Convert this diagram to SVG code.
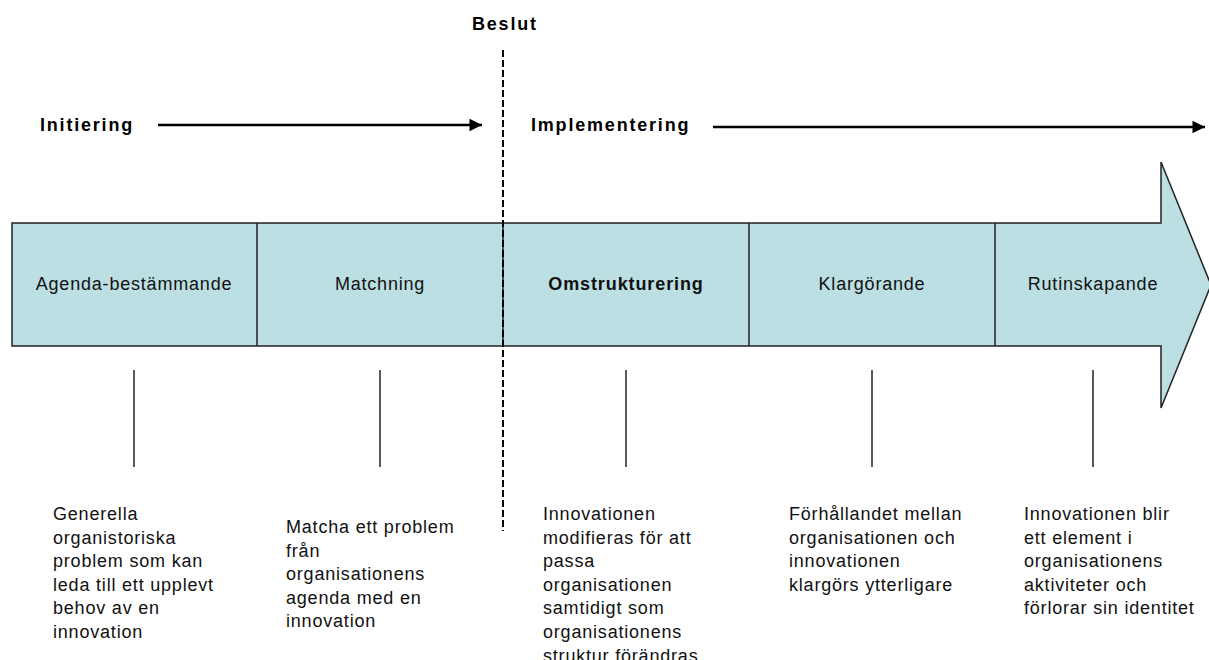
<svg xmlns="http://www.w3.org/2000/svg" width="1209" height="660" viewBox="0 0 1209 660">
  <defs>
    <marker id="head" viewBox="0 0 10 10" refX="10" refY="5" markerWidth="6" markerHeight="5" markerUnits="strokeWidth" orient="auto">
      <path d="M0,0 L10,5 L0,10 Z" fill="#000"/>
    </marker>
    <style>
      .hdr { font-family: "Liberation Sans", Arial, sans-serif; font-weight: bold; font-size: 18px; letter-spacing: 1.8px; fill: #000; }
      .stage { font-family: "Liberation Sans", Arial, sans-serif; font-size: 18px; letter-spacing: 0.8px; fill: #111; text-anchor: middle; }
      .stage.bold { font-weight: bold; letter-spacing: 0.9px; }
      .desc { font-family: "Liberation Sans", Arial, sans-serif; font-size: 18px; letter-spacing: 0.8px; fill: #111; }
      .band { fill: #BBDFE2; stroke: #222; stroke-width: 1.5; }
      .div { stroke: #222; stroke-width: 1.5; }
      .tick { stroke: #000; stroke-width: 1.3; }
      .flow { stroke: #000; stroke-width: 2.5; fill: none; marker-end: url(#head); }
      .decision { stroke: #000; stroke-width: 2; stroke-dasharray: 7 3; }
    </style>
  </defs>
  <rect width="1209" height="660" fill="#fff"/>

  <!-- phase headings -->
  <g id="phase-initiering">
    <text class="hdr" x="40" y="131">Initiering</text>
  </g>
  <g id="phase-implementering">
    <text class="hdr" x="531" y="131">Implementering</text>
  </g>
  <g id="decision-label">
    <text class="hdr" x="472" y="30">Beslut</text>
  </g>

  <!-- process band: one big arrow split into stages -->
  <g id="band">
    <path class="band" d="M12,223 H1161 V162 L1211,285 L1161,408 V346 H12 Z"/>
    <line class="div" x1="257" y1="223" x2="257" y2="346"/>
    <line class="div" x1="503" y1="223" x2="503" y2="346"/>
    <line class="div" x1="749" y1="223" x2="749" y2="346"/>
    <line class="div" x1="995" y1="223" x2="995" y2="346"/>
  </g>

  <g id="stage-agenda">
    <text class="stage" x="134" y="290">Agenda-bestämmande</text>
  </g>
  <g id="stage-matchning">
    <text class="stage" x="380" y="290">Matchning</text>
  </g>
  <g id="stage-omstrukturering">
    <text class="stage bold" x="626" y="290">Omstrukturering</text>
  </g>
  <g id="stage-klargorande">
    <text class="stage" x="872" y="290">Klargörande</text>
  </g>
  <g id="stage-rutinskapande">
    <text class="stage" x="1093" y="290">Rutinskapande</text>
  </g>

  <!-- connectors -->
  <g id="connectors">
    <line class="flow" x1="158" y1="125" x2="482" y2="125"/>
    <line class="flow" x1="713" y1="127" x2="1205" y2="127"/>
    <line class="decision" x1="503" y1="50" x2="503" y2="531"/>
    <line class="tick" x1="134" y1="370" x2="134" y2="467"/>
    <line class="tick" x1="380" y1="370" x2="380" y2="467"/>
    <line class="tick" x1="626" y1="370" x2="626" y2="467"/>
    <line class="tick" x1="872" y1="370" x2="872" y2="467"/>
    <line class="tick" x1="1093" y1="370" x2="1093" y2="467"/>
  </g>

  <!-- stage descriptions -->
  <g id="desc-agenda">
    <text class="desc" x="53" y="520">
      <tspan x="53" dy="0">Generella</tspan>
      <tspan x="53" dy="23.6">organistoriska</tspan>
      <tspan x="53" dy="23.6">problem som kan</tspan>
      <tspan x="53" dy="23.6">leda till ett upplevt</tspan>
      <tspan x="53" dy="23.6">behov av en</tspan>
      <tspan x="53" dy="23.6">innovation</tspan>
    </text>
  </g>
  <g id="desc-matchning">
    <text class="desc" x="286" y="533">
      <tspan x="286" dy="0">Matcha ett problem</tspan>
      <tspan x="286" dy="23.6">från</tspan>
      <tspan x="286" dy="23.6">organisationens</tspan>
      <tspan x="286" dy="23.6">agenda med en</tspan>
      <tspan x="286" dy="23.6">innovation</tspan>
    </text>
  </g>
  <g id="desc-omstrukturering">
    <text class="desc" x="543" y="520">
      <tspan x="543" dy="0">Innovationen</tspan>
      <tspan x="543" dy="23.6">modifieras för att</tspan>
      <tspan x="543" dy="23.6">passa</tspan>
      <tspan x="543" dy="23.6">organisationen</tspan>
      <tspan x="543" dy="23.6">samtidigt som</tspan>
      <tspan x="543" dy="23.6">organisationens</tspan>
      <tspan x="543" dy="23.6">struktur förändras</tspan>
    </text>
  </g>
  <g id="desc-klargorande">
    <text class="desc" x="789" y="520">
      <tspan x="789" dy="0">Förhållandet mellan</tspan>
      <tspan x="789" dy="23.6">organisationen och</tspan>
      <tspan x="789" dy="23.6">innovationen</tspan>
      <tspan x="789" dy="23.6">klargörs ytterligare</tspan>
    </text>
  </g>
  <g id="desc-rutinskapande">
    <text class="desc" x="1024" y="520">
      <tspan x="1024" dy="0">Innovationen blir</tspan>
      <tspan x="1024" dy="23.6">ett element i</tspan>
      <tspan x="1024" dy="23.6">organisationens</tspan>
      <tspan x="1024" dy="23.6">aktiviteter och</tspan>
      <tspan x="1024" dy="23.6">förlorar sin identitet</tspan>
    </text>
  </g>
</svg>
